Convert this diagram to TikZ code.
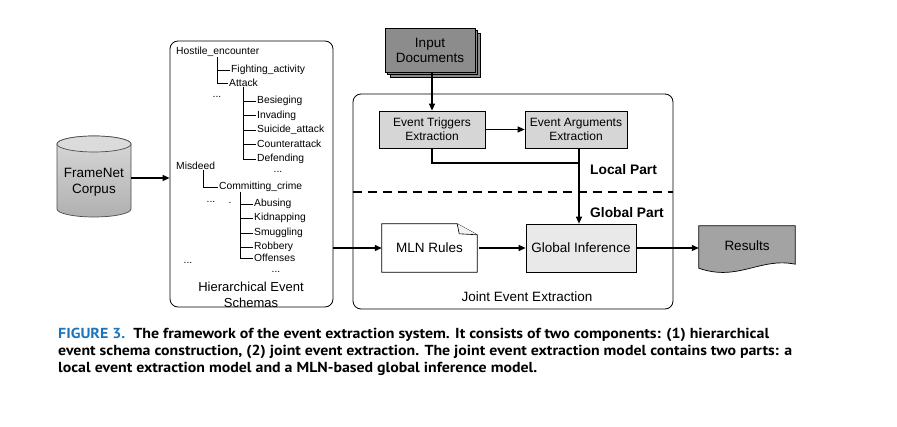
\documentclass[tikz,border=0pt]{standalone}
\usepackage{fontspec}
\setmainfont{Liberation Sans}
\newfontfamily\capfont{PT Sans}
\usetikzlibrary{arrows.meta,shadows,backgrounds}
\definecolor{capblue}{RGB}{28,117,188}
\definecolor{inpgray}{RGB}{140,140,140}
\definecolor{boxgray}{RGB}{214,214,214}
\definecolor{gigray}{RGB}{233,233,233}
\definecolor{resgray}{RGB}{163,163,163}
\begin{document}
\begin{tikzpicture}[x=1pt,y=-1pt,
  arr/.style={-{Triangle[length=7pt,width=6pt]}, line width=1.1pt},
  conn/.style={line width=1.1pt},
  treeline/.style={line width=0.7pt},
  leaf/.style={font=\fontsize{10.3}{12}\selectfont, inner ysep=0pt, inner xsep=1pt, anchor=mid west},
  dots/.style={font=\fontsize{10.3}{12}\selectfont, inner sep=0pt, anchor=base},
  procbox/.style={draw, line width=0.7pt, align=center, inner sep=0pt, font=\fontsize{12}{14}\selectfont},
  lab/.style={font=\fontsize{13.5}{16}\selectfont, align=center, inner sep=0pt},
  boldlab/.style={font=\bfseries\fontsize{13.8}{16}\selectfont, inner sep=0pt, anchor=mid west},
  frame/.style={draw, rounded corners=8pt, line width=0.8pt, inner sep=0pt},
  capline/.style={anchor=base west, inner sep=0pt},
]
\useasboundingbox (0,0) rectangle (897,427);

% ---------- FrameNet cylinder ----------
\shade[top color=gray!30, bottom color=gray!62, draw=black!70, line width=0.7pt]
  (57,144) -- (57,209) arc[start angle=180, end angle=360, x radius=37pt, y radius=8pt]
  -- (131,144) arc[start angle=0, end angle=180, x radius=37pt, y radius=8pt] -- cycle;
\draw[black!70, line width=0.7pt, fill=gray!28] (94,144) ellipse [x radius=37pt, y radius=8pt];
\node[lab] (fn) at (94,182) {FrameNet\\Corpus};
\coordinate (cyle) at (131,178);

% ---------- Hierarchical schemas ----------
\node[frame, minimum width=163, minimum height=266] (hier) at (251.5,174) {};

\node[leaf] (he) at (175,52) {Hostile\_encounter};
\node[leaf] (fa) at (230,70) {Fighting\_activity};
\node[leaf] (at) at (228,84) {Attack};
\draw[treeline] (he.south) |- (fa.west);
\draw[treeline] (he.south) |- (at.west);
\node[dots] (d1) at (217,98) {...};

\node[leaf] (be) at (256,101) {Besieging};
\node[leaf] (inv) at (256,115.5) {Invading};
\node[leaf] (sa) at (256,130) {Suicide\_attack};
\node[leaf] (ca) at (256,145) {Counterattack};
\node[leaf] (de) at (256,159) {Defending};
\draw[treeline] (at.south) |- (be.west);
\draw[treeline] (at.south) |- (inv.west);
\draw[treeline] (at.south) |- (sa.west);
\draw[treeline] (at.south) |- (ca.west);
\draw[treeline] (at.south) |- (de.west);
\node[dots] (d2) at (278,173) {...};

\node[leaf] (md) at (175,167) {Misdeed};
\node[leaf] (cc) at (218,187) {Committing\_crime};
\draw[treeline] ([xshift=8pt]md.south) |- (cc.west);
\node[dots] (d3) at (211,203) {...};
\node[dots] (dd) at (230,204) {.};

\node[leaf] (ab) at (253,204) {Abusing};
\node[leaf] (ki) at (253,218) {Kidnapping};
\node[leaf] (sm) at (253,233) {Smuggling};
\node[leaf] (ro) at (253,247) {Robbery};
\node[leaf] (of) at (253,259) {Offenses};
\coordinate (cv) at ([xshift=22pt]cc.south west);
\draw[treeline] (cv) |- (ab.west);
\draw[treeline] (cv) |- (ki.west);
\draw[treeline] (cv) |- (sm.west);
\draw[treeline] (cv) |- (ro.west);
\draw[treeline] (cv) |- (of.west);
\node[dots] (d4) at (188,264) {...};
\node[dots] (d5) at (276,273) {...};

\node[lab, font=\fontsize{13}{16}\selectfont] (hiert) at (251,295) {Hierarchical Event\\Schemas};

% ---------- Joint event extraction ----------
\node[frame, minimum width=320, minimum height=215] (joint) at (513,201.5) {};
\node[lab] (jointt) at (527,297) {Joint Event Extraction};

\node[procbox, fill=inpgray, minimum width=90, minimum height=44,
      font=\fontsize{13.5}{15}\selectfont,
      double copy shadow={shadow xshift=2.5pt, shadow yshift=-2.5pt}] (inp) at (430,50) {Input\\Documents};

\node[procbox, fill=boxgray, minimum width=106, minimum height=37] (trig) at (432,129.5) {Event Triggers\\Extraction};
\node[procbox, fill=boxgray, minimum width=102, minimum height=37] (args) at (576,129.5) {Event Arguments\\Extraction};

\node[boldlab] (local) at (590,172) {Local Part};
\node[boldlab] (global) at (590,215) {Global Part};
\draw[line width=2pt, dash pattern=on 9pt off 6pt] (joint.west |- 0,192) -- (joint.east |- 0,192);

\node[lab, minimum width=95, minimum height=48] (mln) at (429.5,248) {MLN Rules};
\node[procbox, fill=gigray, minimum width=110, minimum height=48, font=\fontsize{13.5}{16}\selectfont] (gi) at (581,248) {Global Inference};
\node[lab, minimum width=96, minimum height=40] (res) at (747,246) {Results};

\begin{scope}[on background layer]
  \draw[line width=0.7pt, fill=white]
    (mln.south west) -- (mln.north west) -- ([xshift=-20pt]mln.north east)
    -- ([yshift=-11pt]mln.north east) -- (mln.south east) -- cycle;
  \draw[line width=0.6pt, fill=gray!10]
    ([xshift=-20pt]mln.north east) -- ([xshift=-18pt,yshift=-10pt]mln.north east)
    -- ([yshift=-11pt]mln.north east);
  \draw[line width=0.7pt, fill=resgray]
    (res.north west) -- (res.north east) -- ([yshift=2pt]res.south east)
    .. controls (760,257) and (738,282) .. ([yshift=-2pt]res.south west) -- cycle;
\end{scope}

% ---------- connectors ----------
\draw[arr] (cyle) -- (cyle -| hier.west);
\draw[arr] (inp.south -| trig.north) -- (trig.north);
\draw[arr] (trig.east) -- (args.west);
\coordinate (jn) at (579,163);
\draw[conn] (trig.south) |- (jn);
\draw[arr] (jn |- args.south) -- (jn |- gi.north);
\draw[arr] (hier.east |- mln.west) -- (mln.west);
\draw[arr] ([xshift=2pt]mln.east) -- (gi.west);
\draw[arr] (gi.east) -- (res.west |- gi.east);

% ---------- caption ----------
\node[capline] (cap1) at (58,339) {\resizebox{711pt}{\height}{\capfont\bfseries\fontsize{14.5}{16}\selectfont{\color{capblue}FIGURE 3.}\ \ The framework of the event extraction system. It consists of two components: (1) hierarchical}};
\node[capline] (cap2) at (58,356) {\resizebox{734pt}{\height}{\capfont\bfseries\fontsize{14.5}{16}\selectfont event schema construction, (2) joint event extraction. The joint event extraction model contains two parts: a}};
\node[capline] (cap3) at (58,373) {\resizebox{479pt}{\height}{\capfont\bfseries\fontsize{14.5}{16}\selectfont local event extraction model and a MLN-based global inference model.}};
\end{tikzpicture}
\end{document}
